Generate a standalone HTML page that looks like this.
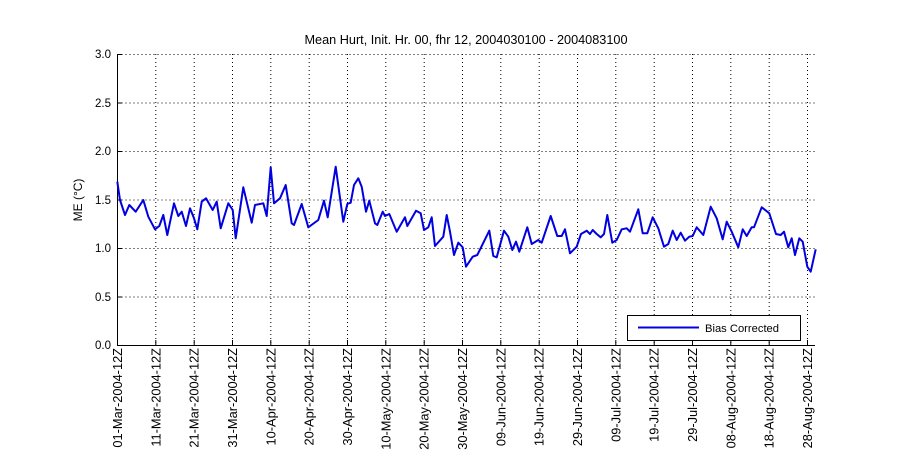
<!DOCTYPE html>
<html><head><meta charset="utf-8"><style>body{margin:0;background:#fff}svg{display:block}text{font-family:"Liberation Sans",sans-serif;font-size:12px;fill:#000}.xl text{font-size:12.8px}.yl text{font-size:11.5px}</style></head><body>
<svg width="900" height="450" viewBox="0 0 900 450">
<rect x="0" y="0" width="900" height="450" fill="#fff"/>
<text x="466" y="44" text-anchor="middle" style="font-size:12.7px">Mean Hurt, Init. Hr. 00, fhr 12, 2004030100 - 2004083100</text>
<g stroke="#000" stroke-width="1" stroke-dasharray="1,3" fill="none">
<path d="M117.5 54.5H815M117.5 103H815M117.5 151.5H815M117.5 200H815M117.5 248.5H815M117.5 297H815"/>
<path d="M155.8 54V345M194.2 54V345M232.5 54V345M270.8 54V345M309.2 54V345M347.5 54V345M385.8 54V345M424.2 54V345M462.5 54V345M500.8 54V345M539.2 54V345M577.5 54V345M615.8 54V345M654.2 54V345M692.5 54V345M730.8 54V345M769.2 54V345M807.5 54V345"/>
</g>
<path d="M117.5 54V345.5H815" stroke="#000" fill="none"/>
<g stroke="#000"><path d="M117.5 345V340M155.8 345V340M194.2 345V340M232.5 345V340M270.8 345V340M309.2 345V340M347.5 345V340M385.8 345V340M424.2 345V340M462.5 345V340M500.8 345V340M539.2 345V340M577.5 345V340M615.8 345V340M654.2 345V340M692.5 345V340M730.8 345V340M769.2 345V340M807.5 345V340M117 54.5H122M117 103H122M117 151.5H122M117 200H122M117 248.5H122M117 297H122"/></g>
<g text-anchor="end" class="yl">
<text x="111" y="58">3.0</text><text x="111" y="107">2.5</text><text x="111" y="155">2.0</text><text x="111" y="204">1.5</text><text x="111" y="252">1.0</text><text x="111" y="301">0.5</text><text x="111" y="349">0.0</text>
</g>
<text transform="translate(82,200) rotate(-90)" text-anchor="middle">ME (°C)</text>
<g text-anchor="end" class="xl">
<text transform="translate(122,348) rotate(-90)">01-Mar-2004-12Z</text>
<text transform="translate(160.3,348) rotate(-90)">11-Mar-2004-12Z</text>
<text transform="translate(198.7,348) rotate(-90)">21-Mar-2004-12Z</text>
<text transform="translate(237,348) rotate(-90)">31-Mar-2004-12Z</text>
<text transform="translate(275.3,348) rotate(-90)">10-Apr-2004-12Z</text>
<text transform="translate(313.7,348) rotate(-90)">20-Apr-2004-12Z</text>
<text transform="translate(352,348) rotate(-90)">30-Apr-2004-12Z</text>
<text transform="translate(390.3,348) rotate(-90)">10-May-2004-12Z</text>
<text transform="translate(428.7,348) rotate(-90)">20-May-2004-12Z</text>
<text transform="translate(467,348) rotate(-90)">30-May-2004-12Z</text>
<text transform="translate(505.3,348) rotate(-90)">09-Jun-2004-12Z</text>
<text transform="translate(543.7,348) rotate(-90)">19-Jun-2004-12Z</text>
<text transform="translate(582,348) rotate(-90)">29-Jun-2004-12Z</text>
<text transform="translate(620.3,348) rotate(-90)">09-Jul-2004-12Z</text>
<text transform="translate(658.7,348) rotate(-90)">19-Jul-2004-12Z</text>
<text transform="translate(697,348) rotate(-90)">29-Jul-2004-12Z</text>
<text transform="translate(735.3,348) rotate(-90)">08-Aug-2004-12Z</text>
<text transform="translate(773.7,348) rotate(-90)">18-Aug-2004-12Z</text>
<text transform="translate(812,348) rotate(-90)">28-Aug-2004-12Z</text>
</g>
<polyline fill="none" stroke="#0000e0" stroke-width="2" stroke-linejoin="round" points="117.3,181.7 120,200 125,215 129.3,205 135.7,211.7 143.3,200 148.3,216.7 155,229.3 159.3,226 163.3,215 167.3,235 174,203.3 178.3,216 181.7,211.7 186,226 190,208.3 194,218.3 197.3,229.3 201.7,201.7 206,198.3 212.7,210 216.7,201.7 220.7,228.3 228.3,203.3 232.7,210 235.7,238.3 243.3,187.3 251.7,222.7 255,205 263.3,203.3 266.7,216 270.7,167.3 274,203.3 280,198.3 285.7,185 291.7,223.3 294,225 301.7,204 308.3,227.3 318.3,220 324,200.7 327.7,217.3 335.7,166.7 343.3,221.7 347.3,204 350.7,202.7 354,185 358.3,178.3 361.7,186.7 366,211.7 369.3,200.7 375,223.3 377.3,225 382.7,211.7 385,216 389.3,214 396.7,231.7 405,217.3 407.3,226 416,210.7 420.7,213.3 424,230 428.3,227.3 431.7,217.3 435,246 443.3,236.7 446.7,215 450,231.7 454,255 458.3,242.7 462.7,247.3 466,266.7 472.7,256.7 477.3,255 489.3,230.7 493.3,256 496.7,257.3 504,230.7 508.3,236.7 512.3,250 516,241.7 519.3,251.7 527.3,227.3 531.7,244 538.3,240 541.7,242.7 550.7,216 557.3,236 561.7,236 565,229.3 570,253.3 576.7,246.7 581,234 586.7,230.7 590,234 592.7,230 596.7,234 600.7,237.3 604,234 607.3,215 612.3,242.7 616.7,240 621.7,229.3 626.7,228.3 630,231.7 638.3,209.3 642.7,233.3 647.3,233.3 652.7,217.3 658.3,228.3 664,246.7 668.3,244 672.7,230.7 676.7,240 680.7,232.7 685,240.7 689.3,236.7 692.7,236 696.7,227.3 703.3,235 710.7,206.7 716.7,218.3 722.7,239.3 726.7,221.7 731.7,231.7 738.3,247.3 742.7,229.3 746.7,236 751.7,227.3 754,227.3 761.7,207.3 769.3,213.3 776,234 780.7,235 784,231.7 788.3,247.3 791.7,238.3 795,255 799.3,238.3 802.7,241.7 807.3,266.7 810.7,271.7 815.7,249.3"/>
<rect x="627.5" y="315.5" width="173" height="25" fill="#fff" stroke="#000"/>
<line x1="638" y1="327.5" x2="699" y2="327.5" stroke="#0000e0" stroke-width="2"/>
<text x="705" y="332" style="font-size:11.2px">Bias Corrected</text>
</svg>
</body></html>
